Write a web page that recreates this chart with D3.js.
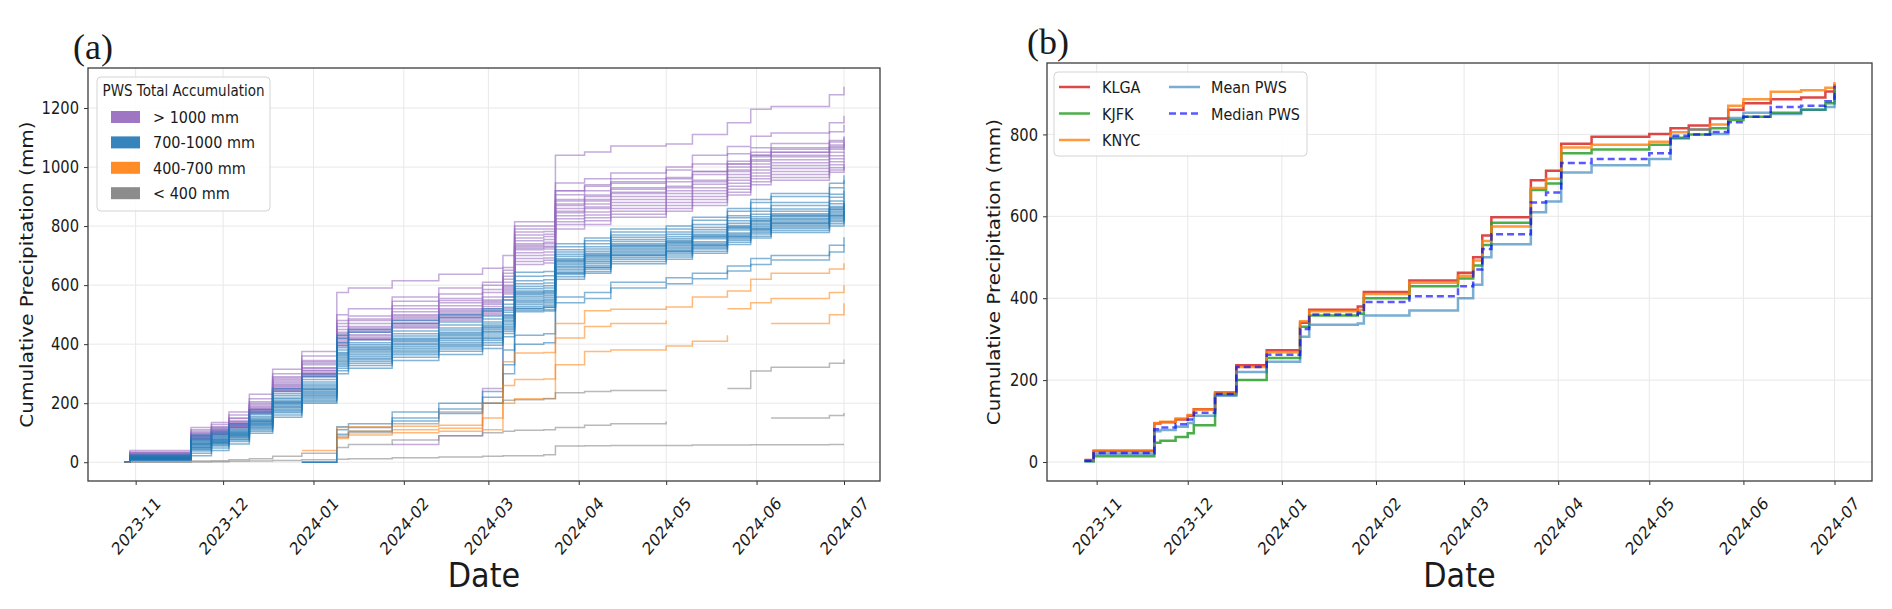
<!DOCTYPE html>
<html lang="en">
  <head>
    <meta charset="UTF-8" />
    <title>Cumulative Precipitation</title>
    <script src="https://cdn.jsdelivr.net/npm/d3@7"></script>
    <style>
      body { margin: 0; background: #fff; }
      svg text { font-family: "DejaVu Sans", sans-serif; fill: #1a1a1a; }
    </style>
  </head>
  <body>
    <svg id="chart" width="1892" height="609"></svg>
    <script>
      // ---- panel (a): PWS stations, cumulative mm at each event date ----
      const datesA = ["2023-10-28","2023-10-30","2023-11-20","2023-11-27","2023-12-03","2023-12-10","2023-12-18","2023-12-28","2024-01-09","2024-01-13","2024-01-28","2024-02-13","2024-02-28","2024-03-06","2024-03-10","2024-03-20","2024-03-24","2024-04-03","2024-04-12","2024-05-01","2024-05-10","2024-05-22","2024-05-30","2024-06-06","2024-06-26","2024-07-01"];

      const purpleStations = [
        [0,40,118,135,170,230,315,375,575,590,615,637,657,700,815,815,1040,1051,1071,1078,1110,1150,1196,1205,1245,1272],
        [0,35,110,128,160,215,300,360,500,520,560,590,610,660,790,790,946,960,980,1000,1040,1070,1104,1115,1150,1174],
        [0,30,105,120,150,205,290,345,480,495,545,570,600,650,780,782,920,940,960,990,1010,1045,1065,1080,1120,1143],
        [0,28,100,118,148,200,285,340,470,485,530,555,585,640,770,772,906,920,945,960,985,1020,1050,1065,1090,1104],
        [0,32,98,115,140,195,280,335,460,480,520,548,575,630,760,765,890,905,930,950,975,1010,1040,1060,1085,1100],
        [0,25,95,112,138,190,275,330,450,470,510,540,560,620,750,755,885,900,925,945,null,1000,1035,1050,1075,1090],
        [0,22,92,110,135,185,270,320,440,460,500,530,550,610,740,745,875,890,915,935,955,990,1025,1040,1065,1080],
        [0,30,90,108,132,182,265,318,435,455,495,520,545,600,735,740,870,885,910,930,950,985,1020,1035,1060,1075],
        [0,26,88,105,130,180,262,312,430,450,490,515,540,595,730,732,860,875,900,920,942,975,1010,1025,1050,1065],
        [0,20,85,102,128,178,258,310,425,445,485,510,535,590,725,728,850,865,890,910,930,965,1000,1015,1038,1050],
        [0,24,84,100,125,175,255,305,420,440,480,505,528,585,720,722,845,860,880,900,920,955,990,1005,1028,1040],
        [0,18,82,98,122,172,250,300,415,432,472,500,520,580,710,712,835,848,870,890,910,945,980,995,1018,1030],
        [0,22,80,95,120,170,248,298,410,428,468,495,515,575,700,702,825,838,860,880,900,935,970,985,1008,1020],
        [0,16,78,94,118,168,245,295,405,422,462,490,510,570,690,692,815,828,850,870,890,925,960,975,998,1010],
        [0,20,80,96,119,166,243,292,400,418,458,485,505,560,680,684,805,818,840,860,880,915,950,965,990,1005],
        [0,18,76,92,116,165,240,290,395,415,455,480,500,550,670,675,790,805,830,850,870,905,940,955,982,1000],
        [null,null,null,null,null,null,null,null,null,null,60,90,250,520,800,800,920,935,950,965,985,1010,1040,1050,1070,1085]
      ];

      const blueStations = [
        [0,25,92,105,130,178,250,300,430,450,480,500,520,560,644,646,740,760,790,800,830,860,890,910,945,972],
        [0,22,88,100,125,170,240,290,420,440,470,490,512,550,630,632,730,750,780,790,820,850,880,900,930,955],
        [0,20,80,95,118,162,232,280,405,425,null,475,495,535,615,618,720,740,770,780,805,835,860,880,908,930],
        [0,18,75,90,112,155,225,272,395,415,445,465,485,525,605,607,712,730,762,772,795,828,850,870,898,920],
        [0,17,72,86,108,150,218,265,388,405,435,455,475,515,595,598,705,722,755,765,788,818,840,858,885,905],
        [0,16,70,84,105,146,214,260,380,398,428,448,468,508,588,590,698,715,748,758,780,810,832,850,876,895],
        [0,15,66,80,102,142,208,255,372,392,420,440,462,500,580,582,690,708,740,752,772,802,825,842,866,885],
        [0,15,64,78,100,140,205,250,368,388,416,436,458,496,576,578,686,704,736,748,768,798,820,838,862,880],
        [0,14,62,76,98,138,202,247,364,384,412,432,455,492,572,574,683,700,733,745,765,795,817,835,858,878],
        [0,14,60,74,96,136,200,245,360,380,408,428,450,488,568,570,680,698,730,742,762,792,814,832,855,875],
        [0,13,58,72,94,133,196,240,355,375,402,422,444,482,562,564,675,693,725,738,757,787,808,826,850,870],
        [0,12,55,70,92,130,192,236,350,370,398,418,440,478,556,558,670,688,720,733,752,null,804,822,845,865],
        [0,12,52,68,90,128,188,232,345,364,392,412,434,472,550,552,664,682,715,728,747,777,798,817,840,860],
        [0,11,50,66,88,125,185,228,340,358,386,406,428,466,545,547,660,678,710,723,742,772,793,812,835,855],
        [0,10,48,64,85,122,180,224,335,352,380,400,422,460,540,542,654,672,705,718,737,767,788,807,830,850],
        [0,10,45,62,82,118,176,220,330,348,375,395,418,455,534,536,648,666,700,713,732,762,783,802,825,845],
        [0,9,42,58,78,115,172,215,325,342,370,390,412,450,528,530,642,660,694,708,727,757,778,797,820,840],
        [0,8,38,55,75,110,168,210,318,335,364,384,405,444,522,524,636,654,688,702,722,752,773,792,815,835],
        [0,7,30,48,70,105,160,205,310,328,356,376,396,436,515,517,628,646,680,695,715,745,766,785,808,830],
        [0,6,22,40,62,98,152,200,300,318,345,365,385,425,510,512,620,640,672,688,708,738,760,778,800,825],
        [null,null,null,null,null,null,null,0,110,118,150,180,220,330,430,435,560,575,610,625,640,665,690,700,735,762],
        [null,null,null,null,null,null,null,0,95,105,140,165,200,300,400,405,540,555,590,605,622,648,670,685,712,736],
        [null,null,null,null,null,null,null,0,120,130,170,200,240,380,520,525,640,660,700,715,735,765,790,810,835,850]
      ];

      const orangeStations = [
        [null,null,null,null,null,null,null,40,118,120,122,125,200,340,370,372,470,513,518,526,560,580,620,640,655,674],
        [null,null,null,null,null,null,null,null,90,105,110,115,150,260,280,282,421,460,470,480,null,520,540,555,575,600],
        [null,null,null,null,null,null,null,null,80,92,100,105,110,200,215,216,330,375,380,394,410,430,null,470,500,539]
      ];

      const grayStations = [
        [0,2,4,5,8,12,20,30,50,60,75,90,100,105,108,110,118,125,130,138,null,null,null,150,158,167],
        [null,null,null,null,null,null,null,null,85,100,130,170,200,210,212,215,235,240,243,245,null,250,309,322,335,348],
        [0,0,1,2,3,4,6,8,10,12,15,18,20,22,22,25,55,56,57,57,58,58,59,59,60,60]
      ];

      const groupLabels = ["> 1000 mm", "700-1000 mm", "400-700 mm", "< 400 mm"];
      const groupColors = ["#9467bd", "#1f77b4", "#ff7f0e", "#7f7f7f"];

      // ---- panel (b): airport gauges vs PWS summary ----
      const datesB = ["2023-10-28","2023-10-31","2023-11-20","2023-11-22","2023-11-27","2023-12-01","2023-12-03","2023-12-10","2023-12-17","2023-12-27","2024-01-07","2024-01-10","2024-01-26","2024-01-28","2024-02-12","2024-02-28","2024-03-04","2024-03-07","2024-03-10","2024-03-23","2024-03-28","2024-04-02","2024-04-12","2024-05-01","2024-05-08","2024-05-14","2024-05-21","2024-05-27","2024-06-01","2024-06-10","2024-06-20","2024-06-28","2024-07-01"];
      const klga = [5,27,94,97,104,113,129,170,236,273,340,372,380,415,443,462,500,553,598,688,711,777,794,801,815,822,839,860,876,886,890,905,923];
      const kjfk = [2,14,47,52,61,70,90,165,200,254,330,358,362,400,429,448,480,530,584,664,680,754,763,775,792,800,815,835,843,853,860,876,914];
      const knyc = [4,28,95,98,106,115,128,168,232,268,344,368,372,410,438,455,492,540,575,669,692,768,775,782,805,812,824,870,886,904,908,914,928];
      const meanPws = [2,20,75,78,86,95,113,162,220,245,306,335,338,358,370,400,433,500,532,610,636,707,725,740,790,812,801,840,853,850,860,867,895];
      const medianPws = [3,22,80,84,92,104,120,166,232,262,325,360,365,391,405,429,470,520,556,634,658,730,740,754,797,800,806,830,843,867,870,881,919];

      const seriesB = [
        { name: "KLGA", values: klga, color: "#d62728", opacity: 0.85, dash: null },
        { name: "KJFK", values: kjfk, color: "#2ca02c", opacity: 0.85, dash: null },
        { name: "KNYC", values: knyc, color: "#ff7f0e", opacity: 0.8, dash: null },
        { name: "Mean PWS", values: meanPws, color: "#1f77b4", opacity: 0.6, dash: null },
        { name: "Median PWS", values: medianPws, color: "#0000ff", opacity: 0.65, dash: "7,4" }
      ];

      const parse = d3.utcParse("%Y-%m-%d");
      const monthTicks = d3.utcMonth.range(parse("2023-11-01"), parse("2024-07-02"));
      const svg = d3.select("#chart");

      function padded(lo, hi) {
        const d = (hi - lo) * 0.05;
        return [lo - d, hi + d];
      }

      function label(g, x, y, str, size, opt = {}) {
        const sx = opt.sx == null ? 0.9 : opt.sx;
        return g.append("text")
          .attr("transform", `translate(${x},${y}) scale(${sx},1)` + (opt.rot ? ` rotate(${opt.rot})` : ""))
          .attr("text-anchor", opt.anchor || "start")
          .style("font-size", size + "px")
          .text(str);
      }

      function panel(box, dates, yMax, yTicks, tag, tagPos, ylabX) {
        const t = dates.map(parse);
        const xd = padded(+t[0], +t[t.length - 1]);
        const x = d3.scaleUtc().domain([new Date(xd[0]), new Date(xd[1])]).range([box.left, box.right]);
        const y = d3.scaleLinear().domain(padded(0, yMax)).range([box.bottom, box.top]);
        const g = svg.append("g");

        g.selectAll(".gx").data(monthTicks).join("line")
          .attr("x1", d => x(d)).attr("x2", d => x(d))
          .attr("y1", box.top).attr("y2", box.bottom)
          .attr("stroke", "#e8e8e8").attr("stroke-width", 1);
        g.selectAll(".gy").data(yTicks).join("line")
          .attr("x1", box.left).attr("x2", box.right)
          .attr("y1", d => y(d)).attr("y2", d => y(d))
          .attr("stroke", "#e8e8e8").attr("stroke-width", 1);

        const lines = g.append("g");

        const xa = g.append("g").attr("transform", `translate(0,${box.bottom})`)
          .call(d3.axisBottom(x).tickValues(monthTicks).tickFormat(d3.utcFormat("%Y-%m")).tickSize(4));
        xa.select(".domain").remove();
        xa.selectAll(".tick line").attr("stroke", "#333");
        xa.selectAll(".tick text")
          .attr("x", null).attr("y", null).attr("dy", "0.35em")
          .attr("text-anchor", "middle")
          .attr("transform", "translate(0,45) scale(0.84,1) rotate(-45)")
          .style("font-size", "17.5px").attr("fill", "#1a1a1a");

        const ya = g.append("g").attr("transform", `translate(${box.left},0)`)
          .call(d3.axisLeft(y).tickValues(yTicks).tickFormat(d3.format("d")).tickSize(4));
        ya.select(".domain").remove();
        ya.selectAll(".tick line").attr("stroke", "#333");
        ya.selectAll(".tick text")
          .attr("x", -9 / 0.84)
          .attr("transform", "scale(0.84,1)")
          .style("font-size", "17.5px").attr("fill", "#1a1a1a");

        g.append("rect")
          .attr("x", box.left).attr("y", box.top)
          .attr("width", box.right - box.left).attr("height", box.bottom - box.top)
          .attr("fill", "none").attr("stroke", "#3c3c3c").attr("stroke-width", 1.3);

        label(g, ylabX, (box.top + box.bottom) / 2, "Cumulative Precipitation (mm)", 20, { rot: -90, anchor: "middle" });
        label(g, (box.left + box.right) / 2, 587, "Date", 33, { anchor: "middle", sx: 0.92 });
        g.append("text").attr("x", tagPos[0]).attr("y", tagPos[1])
          .style("font-family", "'Liberation Serif', serif").style("font-size", "36px")
          .text(tag);

        const line = d3.line()
          .defined(d => d[1] != null)
          .x(d => x(d[0])).y(d => y(d[1]))
          .curve(d3.curveStepAfter);
        return { g, lines, x, y, t, line };
      }

      // ---------- panel (a) ----------
      const boxA = { left: 88, right: 880, top: 68, bottom: 481 };
      const allA = [].concat(purpleStations, blueStations, orangeStations, grayStations).flat().filter(v => v != null);
      const pa = panel(boxA, datesA, d3.max(allA), [0, 200, 400, 600, 800, 1000, 1200], "(a)", [73, 59], 33);

      [purpleStations, blueStations, orangeStations, grayStations].forEach((grp, gi) => {
        pa.lines.append("g").selectAll("path").data(grp).join("path")
          .attr("d", s => pa.line(s.map((v, i) => [pa.t[i], v])))
          .attr("fill", "none")
          .attr("stroke", groupColors[gi])
          .attr("stroke-opacity", 0.55)
          .attr("stroke-width", 1.5);
      });

      const legA = svg.append("g");
      legA.append("rect").attr("x", 97).attr("y", 77).attr("width", 173).attr("height", 134)
        .attr("rx", 4).attr("fill", "#fff").attr("fill-opacity", 0.85).attr("stroke", "#d4d4d4");
      label(legA, 183.5, 96, "PWS Total Accumulation", 15, { anchor: "middle" });
      groupLabels.forEach((lab, i) => {
        const cy = 117 + i * 25.4;
        legA.append("rect").attr("x", 111).attr("y", cy - 6).attr("width", 29).attr("height", 12)
          .attr("fill", groupColors[i]).attr("fill-opacity", 0.9);
        label(legA, 153, cy + 6, lab, 16);
      });

      // ---------- panel (b) ----------
      const boxB = { left: 1047, right: 1872, top: 63, bottom: 481 };
      const allB = seriesB.flatMap(s => s.values);
      const pb = panel(boxB, datesB, d3.max(allB), [0, 200, 400, 600, 800], "(b)", [1027, 54], 1000);

      pb.lines.selectAll("path").data(seriesB).join("path")
        .attr("d", s => pb.line(s.values.map((v, i) => [pb.t[i], v])))
        .attr("fill", "none")
        .attr("stroke", s => s.color)
        .attr("stroke-opacity", s => s.opacity)
        .attr("stroke-width", 2.5)
        .attr("stroke-dasharray", s => s.dash);

      const legB = svg.append("g");
      legB.append("rect").attr("x", 1054).attr("y", 72).attr("width", 253).attr("height", 84)
        .attr("rx", 4).attr("fill", "#fff").attr("fill-opacity", 0.85).attr("stroke", "#d4d4d4");
      seriesB.forEach((s, i) => {
        const col = i < 3 ? 0 : 1;
        const row = i < 3 ? i : i - 3;
        const cy = 87 + row * 26.5;
        const hx = col ? 1169 : 1059;
        legB.append("line").attr("x1", hx).attr("x2", hx + 31).attr("y1", cy).attr("y2", cy)
          .attr("stroke", s.color).attr("stroke-opacity", s.opacity)
          .attr("stroke-width", 2.5).attr("stroke-dasharray", s.dash);
        label(legB, col ? 1211 : 1102, cy + 6, s.name, 16);
      });
    </script>
  </body>
</html>
